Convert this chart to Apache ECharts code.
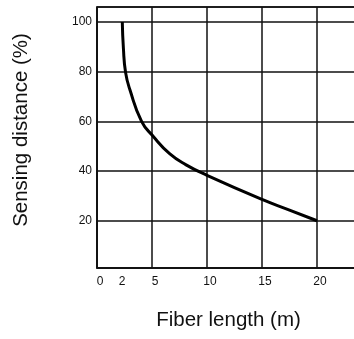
<!DOCTYPE html>
<html>
<head>
<meta charset="utf-8">
<script src="https://cdn.jsdelivr.net/npm/echarts@6/dist/echarts.min.js"></script>
<style>
  html, body { margin: 0; padding: 0; background: #fff; }
  #chart { width: 354px; height: 339px; }
</style>
</head>
<body>
<div id="chart"></div>
<script>
// fiber length (m) vs sensing distance (%)
var fiberLength = [2.3, 2.4, 2.6, 3.0, 4.05, 5.1, 6.6, 8.1, 10, 15, 17.5, 20];
var sensingDistance = [100, 89.4, 79.6, 72.6, 60, 54, 47, 42.5, 38.3, 28.6, 24.3, 20];
var xTickLabels = [0, 2, 5, 10, 15, 20];
var xTitle = "Fiber length (m)";
var yTitle = "Sensing distance (%)";

var chart = echarts.init(document.getElementById("chart"));
var font = "Liberation Sans, Arial, sans-serif";

var points = fiberLength.map(function (x, i) {
	return [x, sensingDistance[i]];
});

chart.setOption({
	animation: false,
	grid: {
		left: 97,
		top: 7,
		width: 275,
		bottom: 71,
		outerBoundsMode: "none",
		show: true,
		borderColor: "#111",
		borderWidth: 1.5
	},
	xAxis: {
		type: "value",
		min: 0,
		max: 25,
		interval: 5,
		axisLine: { show: true, lineStyle: { color: "#111", width: 1.5 } },
		axisTick: { show: false },
		splitLine: { show: true, lineStyle: { color: "#111", width: 1.5 } },
		axisLabel: {
			customValues: xTickLabels,
			color: "#111",
			fontFamily: font,
			fontSize: 12,
			margin: 8,
			padding: [0, 0, 0, 6]
		}
	},
	yAxis: {
		type: "value",
		min: 1,
		max: 106,
		splitNumber: 5,
		minInterval: 20,
		maxInterval: 20,
		axisLine: { show: true, lineStyle: { color: "#111", width: 1.5 } },
		axisTick: { show: false },
		splitLine: { show: true, lineStyle: { color: "#111", width: 1.5 } },
		axisLabel: {
			color: "#111",
			fontFamily: font,
			fontSize: 12,
			margin: 5,
			formatter: function (v) {
				return v % 20 === 0 && v > 0 ? String(v) : "";
			}
		}
	},
	graphic: [
		{
			type: "text",
			x: 228.5,
			y: 320,
			style: {
				text: xTitle, font: "20.5px " + font, fill: "#111",
				align: "center", verticalAlign: "middle"
			}
		},
		{
			type: "text",
			x: 21,
			y: 130,
			rotation: Math.PI / 2,
			style: {
				text: yTitle, font: "20.5px " + font, fill: "#111",
				align: "center", verticalAlign: "middle"
			}
		}
	],
	series: [
		{
			type: "line",
			data: points,
			smooth: 0.5,
			showSymbol: false,
			lineStyle: { color: "#000", width: 3 }
		}
	]
});
</script>
</body>
</html>
